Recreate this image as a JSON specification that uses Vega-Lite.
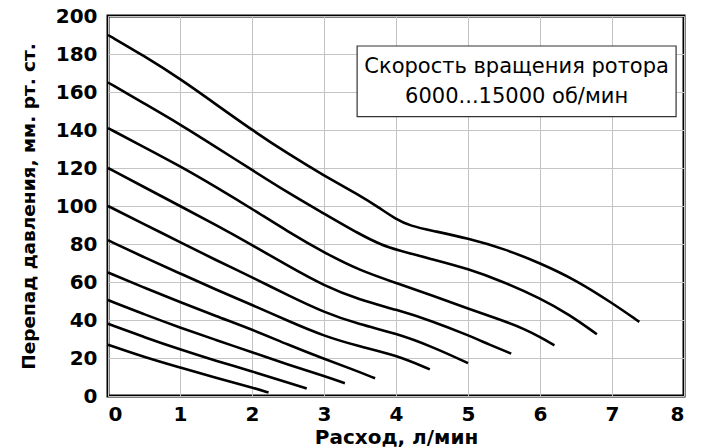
{
  "$schema": "https://vega.github.io/schema/vega-lite/v6.json",
  "width": 576,
  "height": 380,
  "autosize": "none",
  "padding": {"left": 108, "top": 16, "right": 17, "bottom": 52},
  "background": "white",
  "config": {
    "view": {"stroke": "black", "strokeWidth": 3},
    "axis": {
      "labelFont": "DejaVu Sans",
      "labelFontWeight": "bold",
      "labelFontSize": 20,
      "labelColor": "black",
      "titleFont": "DejaVu Sans",
      "titleFontWeight": "bold",
      "titleColor": "black",
      "ticks": false,
      "domain": false,
      "grid": true,
      "gridColor": "#c4c4c4",
      "gridWidth": 1,
      "format": "d"
    }
  },
  "layer": [
    {
      "data": {
        "values": [
          {"c": 1, "q": 0, "p": 190}, {"c": 1, "q": 0.5, "p": 179}, {"c": 1, "q": 1, "p": 167}, {"c": 1, "q": 1.5, "p": 153.5}, {"c": 1, "q": 2, "p": 140}, {"c": 1, "q": 2.5, "p": 127.5}, {"c": 1, "q": 3, "p": 116}, {"c": 1, "q": 3.5, "p": 105.5}, {"c": 1, "q": 3.75, "p": 99.5}, {"c": 1, "q": 4, "p": 93}, {"c": 1, "q": 4.2, "p": 89.5}, {"c": 1, "q": 4.5, "p": 87}, {"c": 1, "q": 5, "p": 83}, {"c": 1, "q": 5.5, "p": 77.5}, {"c": 1, "q": 6, "p": 70}, {"c": 1, "q": 6.5, "p": 61}, {"c": 1, "q": 7, "p": 49}, {"c": 1, "q": 7.38, "p": 39},
          {"c": 2, "q": 0, "p": 165}, {"c": 2, "q": 0.5, "p": 154}, {"c": 2, "q": 1, "p": 143}, {"c": 2, "q": 1.5, "p": 131}, {"c": 2, "q": 2, "p": 119}, {"c": 2, "q": 2.5, "p": 107}, {"c": 2, "q": 3, "p": 96}, {"c": 2, "q": 3.5, "p": 85}, {"c": 2, "q": 3.8, "p": 79.5}, {"c": 2, "q": 4, "p": 77}, {"c": 2, "q": 4.5, "p": 72}, {"c": 2, "q": 5, "p": 67}, {"c": 2, "q": 5.5, "p": 60}, {"c": 2, "q": 6, "p": 51.5}, {"c": 2, "q": 6.4, "p": 43}, {"c": 2, "q": 6.79, "p": 32.5},
          {"c": 3, "q": 0, "p": 141}, {"c": 3, "q": 0.5, "p": 131}, {"c": 3, "q": 1, "p": 121}, {"c": 3, "q": 1.5, "p": 110}, {"c": 3, "q": 2, "p": 98.5}, {"c": 3, "q": 2.5, "p": 86.5}, {"c": 3, "q": 3, "p": 75.5}, {"c": 3, "q": 3.5, "p": 66}, {"c": 3, "q": 4, "p": 59.5}, {"c": 3, "q": 4.5, "p": 53}, {"c": 3, "q": 5, "p": 46}, {"c": 3, "q": 5.5, "p": 39.5}, {"c": 3, "q": 5.8, "p": 35}, {"c": 3, "q": 6, "p": 31}, {"c": 3, "q": 6.2, "p": 26.7},
          {"c": 4, "q": 0, "p": 120}, {"c": 4, "q": 0.5, "p": 110}, {"c": 4, "q": 1, "p": 100}, {"c": 4, "q": 1.5, "p": 90}, {"c": 4, "q": 2, "p": 79.5}, {"c": 4, "q": 2.5, "p": 68.5}, {"c": 4, "q": 3, "p": 58}, {"c": 4, "q": 3.5, "p": 50.5}, {"c": 4, "q": 4, "p": 45.5}, {"c": 4, "q": 4.5, "p": 39.5}, {"c": 4, "q": 5, "p": 32}, {"c": 4, "q": 5.3, "p": 27}, {"c": 4, "q": 5.6, "p": 22.3},
          {"c": 5, "q": 0, "p": 100}, {"c": 5, "q": 0.5, "p": 90.5}, {"c": 5, "q": 1, "p": 81}, {"c": 5, "q": 1.5, "p": 71.5}, {"c": 5, "q": 2, "p": 62.5}, {"c": 5, "q": 2.5, "p": 53}, {"c": 5, "q": 3, "p": 44}, {"c": 5, "q": 3.5, "p": 37.5}, {"c": 5, "q": 4, "p": 33}, {"c": 5, "q": 4.5, "p": 26}, {"c": 5, "q": 5, "p": 17.3},
          {"c": 6, "q": 0, "p": 82}, {"c": 6, "q": 0.5, "p": 73}, {"c": 6, "q": 1, "p": 64.5}, {"c": 6, "q": 1.5, "p": 56}, {"c": 6, "q": 2, "p": 48}, {"c": 6, "q": 2.5, "p": 39.5}, {"c": 6, "q": 3, "p": 31.5}, {"c": 6, "q": 3.5, "p": 26}, {"c": 6, "q": 4, "p": 21.5}, {"c": 6, "q": 4.47, "p": 14},
          {"c": 7, "q": 0, "p": 65}, {"c": 7, "q": 0.5, "p": 57}, {"c": 7, "q": 1, "p": 49.5}, {"c": 7, "q": 1.5, "p": 42}, {"c": 7, "q": 2, "p": 35}, {"c": 7, "q": 2.5, "p": 27}, {"c": 7, "q": 3, "p": 19.5}, {"c": 7, "q": 3.4, "p": 14}, {"c": 7, "q": 3.71, "p": 9.3},
          {"c": 8, "q": 0, "p": 50.5}, {"c": 8, "q": 0.5, "p": 43}, {"c": 8, "q": 1, "p": 36}, {"c": 8, "q": 1.5, "p": 29.5}, {"c": 8, "q": 2, "p": 23}, {"c": 8, "q": 2.5, "p": 16.5}, {"c": 8, "q": 3, "p": 10.5}, {"c": 8, "q": 3.29, "p": 6.7},
          {"c": 9, "q": 0, "p": 38}, {"c": 9, "q": 0.5, "p": 31}, {"c": 9, "q": 1, "p": 24.5}, {"c": 9, "q": 1.5, "p": 18.5}, {"c": 9, "q": 2, "p": 13}, {"c": 9, "q": 2.5, "p": 7}, {"c": 9, "q": 2.76, "p": 4},
          {"c": 10, "q": 0, "p": 27}, {"c": 10, "q": 0.5, "p": 20.5}, {"c": 10, "q": 1, "p": 15}, {"c": 10, "q": 1.5, "p": 9.5}, {"c": 10, "q": 2, "p": 4.5}, {"c": 10, "q": 2.23, "p": 1.8}
        ]
      },
      "mark": {"type": "line", "interpolate": "basis", "color": "black", "strokeWidth": 2.6, "strokeCap": "butt"},
      "encoding": {
        "x": {
          "field": "q", "type": "quantitative",
          "scale": {"domain": [0, 8], "nice": false},
          "axis": {"values": [0, 1, 2, 3, 4, 5, 6, 7, 8], "tickCount": 20, "labelOverlap": false, "title": "Расход, л/мин", "titleFontSize": 20, "labelPadding": 8, "titlePadding": 3}
        },
        "y": {
          "field": "p", "type": "quantitative",
          "scale": {"domain": [0, 200], "nice": false},
          "axis": {"values": [0, 20, 40, 60, 80, 100, 120, 140, 160, 180, 200], "tickCount": 20, "labelOverlap": false, "title": "Перепад давления, мм. рт. ст.", "titleFontSize": 18.5, "labelPadding": 11, "titlePadding": 17}
        },
        "detail": {"field": "c", "type": "nominal"}
      }
    },
    {
      "data": {"values": [{}]},
      "mark": {"type": "rect", "fill": "white", "stroke": "#333333", "strokeWidth": 1.2},
      "encoding": {
        "x": {"datum": 3.46, "type": "quantitative"},
        "x2": {"datum": 7.89},
        "y": {"datum": 184.2, "type": "quantitative"},
        "y2": {"datum": 147}
      }
    },
    {
      "data": {"values": [{}]},
      "mark": {"type": "text", "text": ["Скорость вращения ротора", "6000...15000 об/мин"], "font": "DejaVu Sans", "fontSize": 21, "color": "black", "align": "center", "baseline": "middle", "lineHeight": 30},
      "encoding": {
        "x": {"datum": 5.675, "type": "quantitative"},
        "y": {"datum": 173.2, "type": "quantitative"}
      }
    }
  ]
}
